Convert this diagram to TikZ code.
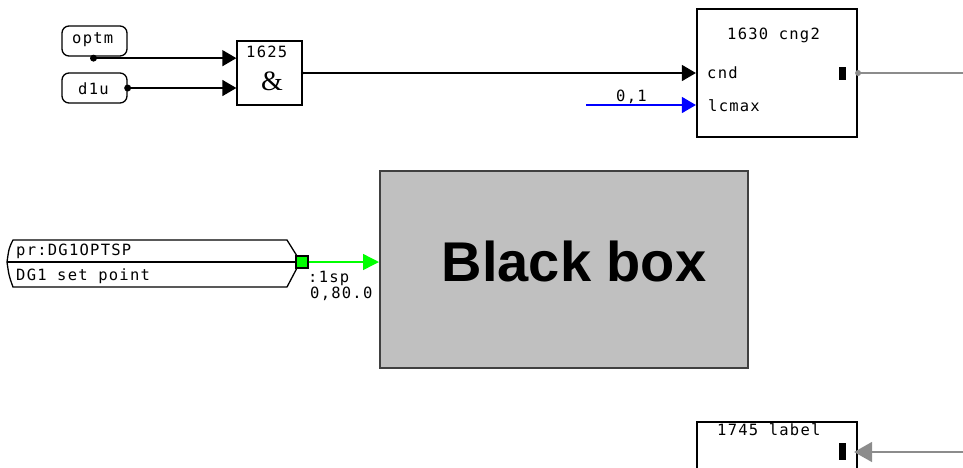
\documentclass[tikz,border=0pt]{standalone}
\usepackage{fontspec}
\newfontfamily\monofnt{DejaVu Sans Mono}[LetterSpace=8]
\newfontfamily\boxfnt{Liberation Sans}
\newfontfamily\ampfnt{Liberation Serif}
\usetikzlibrary{arrows.meta,calc}
\definecolor{bbfill}{RGB}{192,192,192}
\definecolor{bbedge}{RGB}{64,64,64}
\definecolor{wiregray}{RGB}{140,140,140}
\definecolor{sigblue}{RGB}{0,0,255}
\definecolor{siggreen}{RGB}{0,255,0}
\tikzset{
  mono/.style={font={\fontsize{15.5}{17}\selectfont\monofnt}, inner sep=0pt, anchor=base west},
  wire/.style={line width=1.4pt},
  tipped/.style={-{Triangle[length=14pt,width=16pt]}},
  rbox/.style={draw, line width=1.3pt, rounded corners=7pt, inner sep=0pt},
  blk/.style={draw, inner sep=0pt},
  portmark/.style={fill=black, inner sep=0pt, minimum width=7pt, minimum height=13pt}
}
\begin{document}
\begin{tikzpicture}[x=1pt,y=-1pt]
\useasboundingbox (0,0) rectangle (963,467);
% inputs
\node[rbox, minimum width=65pt, minimum height=30pt] (optm) at (94.5,41) {};
\node[mono] (optmt) at (72,43) {optm};
\node[rbox, minimum width=65pt, minimum height=30pt] (d1u) at (94.5,88) {};
\node[mono] (d1ut) at (78,94) {d1u};
% AND block
\node[blk, line width=1.3pt, minimum width=65pt, minimum height=64pt] (and) at (269.5,73) {};
\node[mono] (andt) at (246,57) {1625};
\node[font={\fontsize{28}{30}\selectfont\ampfnt}, inner sep=0pt] (amp) at (272,81) {\&};
% cng2 block
\node[blk, line width=2.2pt, minimum width=160pt, minimum height=128pt] (cng2) at (777,73) {};
\node[mono] (cngt) at (727,39) {1630 cng2};
\node[mono] (cndt) at (707,78) {cnd};
\node[mono] (lcmt) at (708,111) {lcmax};
\node[portmark] (m1) at (842.5,73.5) {};
% black box
\node[blk, draw=bbedge, fill=bbfill, line width=2pt, minimum width=368pt, minimum height=197pt] (bb) at (564,269.5) {};
\node[font={\fontsize{56}{60}\selectfont\boxfnt\bfseries}, inner sep=0pt, anchor=base] (bbt) at (574,281) {Black box};
% label block
\node[blk, line width=2.2pt, minimum width=160pt, minimum height=60pt] (lbl) at (777,452) {};
\node[mono] (lblt) at (717,435) {1745 label};
\node[portmark, minimum height=17pt] (m2) at (842.5,451.5) {};
% parameter block
\draw[line width=1.3pt] (297,256) -- (287,240) -- (13,240) .. controls (9,248) .. (7,262)
   .. controls (9,276) .. (13,287) -- (287,287) -- (297,268);
\draw[line width=1.3pt] (7,262) -- (297,262);
\node[draw, fill=siggreen, line width=1.3pt, inner sep=0pt, minimum size=12pt] (sq) at (302,262) {};
\node[mono] (prt) at (16,255) {pr:DG1OPTSP};
\node[mono] (dgt) at (16,280) {DG1 set point};
\node[mono] (spt) at (308,282) {:1sp};
\node[mono] (valt) at (310,298) {0,80.0};
% connectors
\coordinate (optmport) at ($(optm.south)+(-1,1.5)$);
\draw[wire, tipped] (optmport) -- (optmport -| and.west);
\fill (optmport) circle[radius=3.5pt];
\draw[wire, tipped] (d1u.east) -- (d1u.east -| and.west);
\fill (d1u.east) circle[radius=3.5pt];
\draw[wire, tipped] (and.east) -- (and.east -| cng2.west);
\fill (and.east) circle[radius=1.8pt];
\coordinate (bstart) at (586,105);
\draw[wire, sigblue, tipped] (bstart) -- (bstart -| cng2.west);
\node[mono] (blt) at (616,101) {0,1};
\coordinate (gout) at (963,73);
\draw[wire, wiregray] (cng2.east) -- (gout);
\fill[wiregray] (cng2.east) circle[radius=3pt];
\draw[wire, siggreen, -{Triangle[length=16pt,width=16pt]}] (sq.east) -- (sq.east -| bb.west);
\coordinate (gin) at (963,452);
\draw[line width=1.6pt, wiregray, -{Triangle[length=18pt,width=20pt]}, shorten >=-4pt] (gin) -- (lbl.east);
\end{tikzpicture}
\end{document}
